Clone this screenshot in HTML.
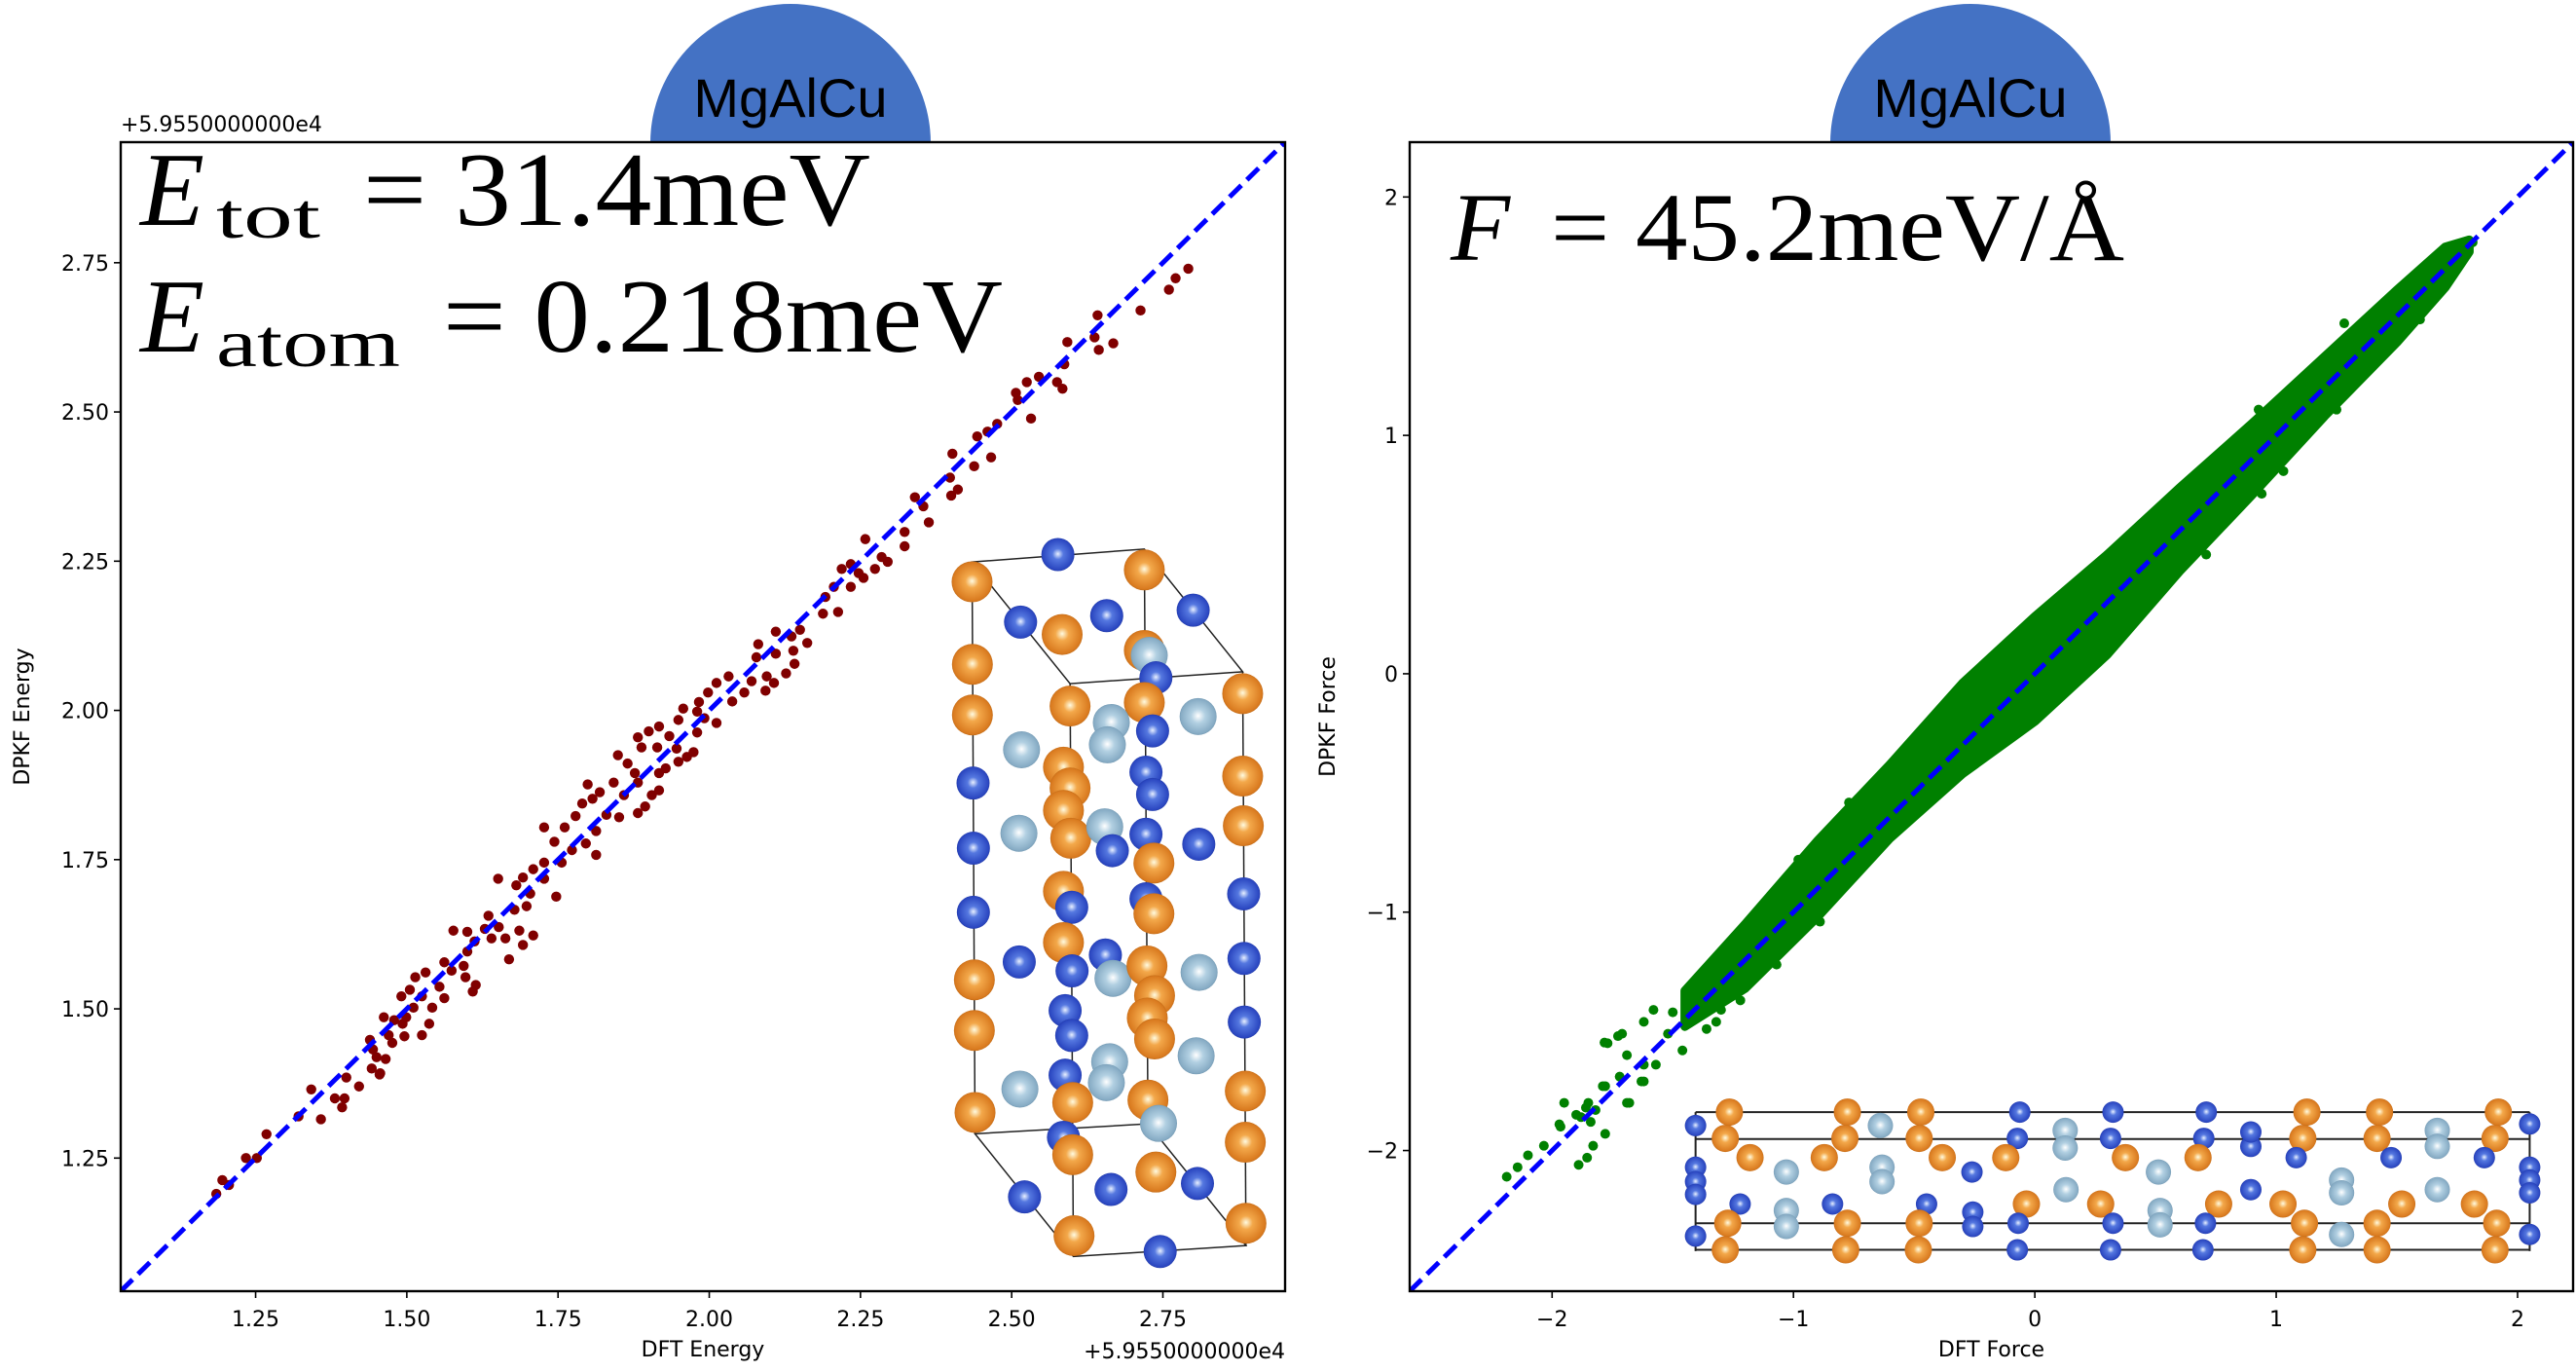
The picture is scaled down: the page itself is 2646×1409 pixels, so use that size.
<!DOCTYPE html>
<html>
<head>
<meta charset="utf-8">
<style>
html,body{margin:0;padding:0;background:#fff;}
svg{display:block;}
.tick{font-family:"DejaVu Sans","Liberation Sans",sans-serif;font-size:22px;fill:#000;}
.math{font-family:"Liberation Serif","DejaVu Serif",serif;fill:#000;}
.badge{font-family:"Liberation Sans","DejaVu Sans",sans-serif;font-size:56px;fill:#000;}
</style>
</head>
<body>
<svg id="fig" width="2646" height="1409" viewBox="0 0 2646 1409" xmlns="http://www.w3.org/2000/svg">
  <defs>
    <radialGradient id="gO" cx="0.5" cy="0.5" r="0.55" fx="0.5" fy="0.48">
      <stop offset="0" stop-color="#fffbe0"/><stop offset="0.3" stop-color="#f3a84a"/><stop offset="0.85" stop-color="#d97a1f"/><stop offset="1" stop-color="#a4590f"/>
    </radialGradient>
    <radialGradient id="gB" cx="0.5" cy="0.5" r="0.55" fx="0.5" fy="0.48">
      <stop offset="0" stop-color="#e8f0ff"/><stop offset="0.3" stop-color="#5578e0"/><stop offset="0.85" stop-color="#2a46c0"/><stop offset="1" stop-color="#182c88"/>
    </radialGradient>
    <radialGradient id="gL" cx="0.5" cy="0.5" r="0.55" fx="0.5" fy="0.48">
      <stop offset="0" stop-color="#ffffff"/><stop offset="0.35" stop-color="#b2d0e2"/><stop offset="0.85" stop-color="#86abc4"/><stop offset="1" stop-color="#5e839c"/>
    </radialGradient>
  </defs>

  <g>
    <path d="M668 147 A144 143 0 0 1 956 147 Z" fill="#4472C4"/>
    <text class="badge" x="812" y="120" text-anchor="middle">MgAlCu</text>
  </g>
  <g>
    <path d="M1880 147 A144 143 0 0 1 2168 147 Z" fill="#4472C4"/>
    <text class="badge" x="2024" y="120" text-anchor="middle">MgAlCu</text>
  </g>

  <g id="leftPlot"></g>
  <g id="rightPlot"></g>

  <text class="math" y="231">
    <tspan x="144" font-style="italic" font-size="108">E</tspan><tspan x="222" y="244" font-size="66" textLength="107" lengthAdjust="spacingAndGlyphs">tot</tspan><tspan x="373" y="231" font-size="108" textLength="521" lengthAdjust="spacingAndGlyphs">= 31.4meV</tspan>
  </text>
  <text class="math" y="361">
    <tspan x="144" font-style="italic" font-size="108">E</tspan><tspan x="222" y="376" font-size="70" textLength="189" lengthAdjust="spacingAndGlyphs">atom</tspan><tspan x="455" y="361" font-size="108" textLength="575" lengthAdjust="spacingAndGlyphs">= 0.218meV</tspan>
  </text>
  <text class="math" y="267">
    <tspan x="1490" font-style="italic" font-size="100">F</tspan><tspan x="1593" font-size="100" textLength="589" lengthAdjust="spacingAndGlyphs">= 45.2meV/Å</tspan>
  </text>
</svg>

<script>
// ---------- Energy data (offset +59550) ----------
const energyDFT = [
2.792,2.771,2.760,2.713,2.642,2.668,2.644,2.637,2.592,2.587,2.584,2.575,2.532,2.545,2.525,2.507,2.510,2.466,2.438,2.443,2.460,2.476,2.402,2.398,2.411,2.400,2.340,2.354,2.363,2.323,2.323,2.295,2.285,2.258,
2.274,2.247,2.234,2.219,2.255,2.234,2.206,2.192,
2.213,2.188,2.162,2.150,2.136,2.110,2.081,2.110,2.139,2.141,2.127,2.095,2.107,2.093,2.078,2.070,2.058,2.032,2.012,2.038,1.998,1.983,1.957,1.949,1.980,1.992,2.012,1.980,1.934,1.917,1.900,1.882,1.888,1.914,1.946,1.963,1.974,1.949,1.928,1.917,1.917,1.905,1.894,1.882,1.851,1.849,1.865,1.877,1.882,1.859,1.842,1.819,1.799,1.807,1.790,1.830,1.779,1.761,1.727,1.813,1.796,1.773,1.744,1.813,1.756,1.727,1.709,1.692,1.727,1.681,1.704,1.747,1.651,1.678,1.698,1.635,1.652,1.629,1.577,1.600,1.640,1.663,1.686,1.709,1.692,1.669,1.612,1.600,1.594,1.597,1.614,1.609,1.562,1.574,1.554,1.531,1.514,1.505,1.491,1.525,1.542,1.562,1.511,1.499,1.537,1.525,1.493,1.479,1.462,1.470,1.476,1.496,1.439,1.444,1.450,1.465,1.456,1.442,
1.455,1.400,1.421,1.397,1.393,1.381,1.342,1.358,1.321,1.268,1.252,1.234,1.195,1.206,1.185];
const energyDPKF = [
2.740,2.724,2.705,2.670,2.662,2.615,2.604,2.625,2.617,2.580,2.539,2.550,2.489,2.559,2.550,2.532,2.520,2.424,2.409,2.459,2.467,2.480,2.430,2.390,2.370,2.360,2.357,2.342,2.315,2.299,2.275,2.249,2.257,2.287,
2.237,2.230,2.245,2.237,2.222,2.207,2.207,2.190,
2.165,2.162,2.113,2.135,2.124,2.132,2.111,2.095,2.100,2.078,2.062,2.057,2.046,2.033,2.089,2.049,2.030,2.057,2.046,2.015,2.030,2.014,2.003,1.984,1.998,1.987,1.979,1.963,1.957,1.973,1.965,1.955,1.938,1.938,1.936,1.922,1.930,1.914,1.903,1.895,1.866,1.858,1.839,1.828,1.821,1.925,1.911,1.895,1.879,1.858,1.879,1.863,1.876,1.852,1.844,1.825,1.823,1.804,1.804,1.798,1.777,1.766,1.780,1.758,1.745,1.745,1.734,1.720,1.718,1.707,1.693,1.688,1.718,1.666,1.672,1.656,1.637,1.634,1.631,1.629,1.618,1.618,1.631,1.623,1.607,1.583,1.613,1.596,1.572,1.553,1.540,1.529,1.578,1.564,1.537,1.561,1.553,1.532,1.521,1.521,1.502,1.518,1.502,1.486,1.475,1.456,1.475,1.481,1.486,1.456,1.443,1.454,1.448,1.432,1.419,1.416,1.392,1.400,
1.390,1.385,1.370,1.350,1.335,1.350,1.365,1.315,1.320,1.290,1.250,1.250,1.213,1.205,1.190];
const energyTicks = [1.25,1.50,1.75,2.00,2.25,2.50,2.75];
const energyTickLabels = ["1.25","1.50","1.75","2.00","2.25","2.50","2.75"];
const energyRange = [1.027, 2.952];

// ---------- Force data ----------
const forceBandX     = [-1.45,-1.2,-0.9,-0.6,-0.3,0.0,0.3,0.6,0.9,1.2,1.5,1.7,1.8];
const forceBandUpper = [-1.33,-1.05,-0.70,-0.38,-0.04,0.24,0.50,0.78,1.05,1.33,1.61,1.79,1.82];
const forceBandLower = [-1.48,-1.32,-1.02,-0.69,-0.42,-0.20,0.08,0.43,0.75,1.08,1.39,1.62,1.77];
const forceOutX = [-2.188,-2.143,-2.034,-1.965,-1.89,-1.855,-1.83,-1.78,-1.78,-1.68,-1.63,-1.88,-1.86,-1.84,-1.783,-1.727,
  -1.58,-1.62,-1.71,-1.77,-1.69,-1.62,-1.57,-1.46,-1.52,-1.32,-1.36,-1.30,-1.22,-1.62,-1.72,-1.79,-1.69,-1.85,-1.82,-1.90,-1.97,-0.98,-0.77,-1.07,-0.89,
  1.814,1.736,1.596,1.39,1.25,1.03,0.94,0.71,0.927,0.771,1.282,-2.1,-1.95,-1.50,-1.44];
const forceOutY = [-2.11,-2.07,-1.98,-1.90,-2.06,-2.03,-1.98,-1.93,-1.73,-1.80,-1.71,-1.86,-1.82,-1.88,-1.547,-1.52,
  -1.41,-1.46,-1.51,-1.55,-1.60,-1.64,-1.64,-1.58,-1.51,-1.46,-1.49,-1.41,-1.37,-1.71,-1.69,-1.73,-1.80,-1.80,-1.83,-1.85,-1.89,-0.78,-0.54,-1.22,-1.04,
  1.81,1.73,1.486,1.29,1.108,0.85,0.755,0.50,1.108,0.92,1.47,-2.02,-1.80,-1.42,-1.38];
const forceTicks = [-2,-1,0,1,2];
const forceTickLabels = ["\u22122","\u22121","0","1","2"];
const forceRange = [-2.59, 2.23];

const NS = "http://www.w3.org/2000/svg";
function mk(tag, attrs, parent){
  const e = document.createElementNS(NS, tag);
  for (const k in attrs) e.setAttribute(k, attrs[k]);
  parent.appendChild(e);
  return e;
}

function drawAxes(g, box, range, ticks, labels, xlabel, ylabel, offsetText){
  const sx = v => box.x0 + (v - range[0]) / (range[1] - range[0]) * (box.x1 - box.x0);
  const sy = v => box.y1 - (v - range[0]) / (range[1] - range[0]) * (box.y1 - box.y0);
  ticks.forEach((t, i) => {
    const X = sx(t), Y = sy(t);
    const tx = mk('line', {x1:X, y1:box.y1, x2:X, y2:box.y1+7, stroke:'#000','stroke-width':1.6}, g);
    
    
    const lx = mk('text', {x:X, y:box.y1+36, 'text-anchor':'middle', class:'tick'}, g);
    lx.textContent = labels[i];
    
    
    const ty = mk('line', {x1:box.x0-7, y1:Y, x2:box.x0, y2:Y, stroke:'#000','stroke-width':1.6}, g);
    
    
    const ly = mk('text', {x:box.x0-12, y:Y+8, 'text-anchor':'end', class:'tick'}, g);
    ly.textContent = labels[i];
    
    
  });
  const xl = mk('text', {x:(box.x0+box.x1)/2, y:1393, 'text-anchor':'middle', class:'tick'}, g);
  xl.textContent = xlabel;
  
  
  const yx = box.ylabelX;
  const yl = mk('text', {x:yx, y:736, 'text-anchor':'middle', class:'tick', transform:`rotate(-90 ${yx} 736)`}, g);
  yl.textContent = ylabel;
  
  
  if (offsetText){
    const o1 = mk('text', {x:box.x0, y:135, class:'tick', 'font-size':19}, g);
    o1.textContent = offsetText;
    
    
    const o2 = mk('text', {x:box.x1, y:1395, 'text-anchor':'end', class:'tick', 'font-size':22}, g);
    o2.textContent = offsetText;
    
    
  }
  return {sx, sy};
}

function drawFrame(g, box){
  const f = mk('rect', {x:box.x0, y:box.y0, width:box.x1-box.x0, height:box.y1-box.y0, fill:'none', stroke:'#000','stroke-width':2.4}, g);
  
  
}

function diag(g, box, sx, sy, range){
  const cp = mk('clipPath', {id:'cp'+box.x0}, g);
  mk('rect', {x:box.x0, y:box.y0, width:box.x1-box.x0, height:box.y1-box.y0}, cp);
  const l = mk('line', {x1:sx(range[0]), y1:sy(range[0]), x2:sx(range[1]), y2:sy(range[1]), stroke:'#0000ff','stroke-width':5,'stroke-dasharray':'17 8','clip-path':`url(#cp${box.x0})`}, g);
  
  
}

function atom(g, x, y, r, c){
  const fill = c==='o' ? 'url(#gO)' : c==='b' ? 'url(#gB)' : 'url(#gL)';
  const a = mk('circle', {cx:x, cy:y, r:r, fill:fill}, g);
  
  
}

// ---------- Left plot ----------
(function(){
  const g = document.getElementById('leftPlot');
  const box = {x0:124, x1:1320, y0:146, y1:1326, ylabelX:30};
  const {sx, sy} = drawAxes(g, box, energyRange, energyTicks, energyTickLabels, 'DFT Energy', 'DPKF Energy', '+5.9550000000e4');
  const cg = mk('g', {}, g);
  
  
  const tx = X => 950 + X/2.95, ty = Y => 520 + Y/1.96;
  const top = [[143,112],[665,86],[963,333],[440,357]];
  const bot = [[152,1263],[676,1243],[973,1488],[450,1510]];
  const pts = a => a.map(p => tx(p[0])+','+ty(p[1])).join(' ');
  mk('polygon', {points:pts(top), fill:'none', stroke:'#222','stroke-width':1.5}, cg);
  mk('polygon', {points:pts(bot), fill:'none', stroke:'#222','stroke-width':1.5}, cg);
  for (let i=0;i<4;i++) mk('line', {x1:tx(top[i][0]), y1:ty(top[i][1]), x2:tx(bot[i][0]), y2:ty(bot[i][1]), stroke:'#222','stroke-width':1.5}, cg);
  const atomsL = [[403,97,'b'],[143,152,'o'],[665,128,'o'],[290,233,'b'],[416,258,'o'],[551,220,'b'],[813,209,'b'],[144,318,'o'],[665,290,'o'],[680,300,'l'],[700,345,'b'],[144,420,'o'],[440,402,'o'],[665,395,'o'],[963,377,'o'],[565,435,'l'],[828,423,'l'],[553,480,'l'],[690,452,'b'],[293,490,'l'],[146,557,'b'],[420,525,'o'],[440,567,'o'],[670,535,'b'],[690,580,'b'],[963,543,'o'],[965,643,'o'],[285,658,'l'],[420,612,'o'],[442,668,'o'],[545,645,'l'],[568,693,'b'],[670,660,'b'],[830,680,'b'],[694,718,'o'],[147,688,'b'],[147,817,'b'],[420,775,'o'],[445,807,'b'],[670,790,'b'],[694,820,'o'],[966,780,'b'],[420,878,'o'],[286,917,'b'],[547,903,'b'],[446,935,'b'],[570,950,'l'],[673,925,'o'],[831,938,'l'],[967,910,'b'],[150,953,'o'],[696,985,'o'],[150,1055,'o'],[425,1015,'b'],[445,1065,'b'],[674,1030,'o'],[696,1072,'o'],[968,1038,'b'],[288,1173,'l'],[425,1145,'b'],[560,1118,'l'],[550,1160,'l'],[822,1106,'l'],[152,1220,'o'],[448,1200,'o'],[676,1195,'o'],[708,1242,'l'],[971,1177,'o'],[420,1270,'b'],[448,1305,'o'],[971,1280,'o'],[302,1390,'b'],[564,1375,'b'],[700,1340,'o'],[826,1363,'b'],[452,1468,'o'],[713,1500,'b'],[973,1443,'o']];
  atomsL.forEach(a => atom(cg, tx(a[0]), ty(a[1]), a[2]==='o'?21:a[2]==='b'?17:19, a[2]));
  const sg = mk('g', {}, g);
  
  
  energyDFT.forEach((v, i) => {
    const c = mk('circle', {cx:sx(v), cy:sy(energyDPKF[i]), r:5.2, fill:'#800000'}, sg);
    
    
  });
  diag(g, box, sx, sy, energyRange);
  drawFrame(g, box);
})();

// ---------- Right plot ----------
(function(){
  const g = document.getElementById('rightPlot');
  const box = {x0:1448, x1:2643, y0:146, y1:1326, ylabelX:1371};
  const {sx, sy} = drawAxes(g, box, forceRange, forceTicks, forceTickLabels, 'DFT Force', 'DPKF Force', null);
  const sg = mk('g', {}, g);
  
  
  let d = '';
  forceBandX.forEach((v, i) => { d += (i?'L':'M') + sx(v) + ' ' + sy(forceBandUpper[i]) + ' '; });
  for (let i = forceBandX.length-1; i >= 0; i--) d += 'L' + sx(forceBandX[i]) + ' ' + sy(forceBandLower[i]) + ' ';
  d += 'Z';
  const band = mk('path', {d:d, fill:'#008000', stroke:'#008000','stroke-width':9,'stroke-linejoin':'round'}, sg);
  
  
  forceOutX.forEach((v, i) => {
    const c = mk('circle', {cx:sx(v), cy:sy(forceOutY[i]), r:5, fill:'#008000'}, sg);
    
    
  });
  diag(g, box, sx, sy, forceRange);
  const cg = mk('g', {}, g);
  
  
  const tx = X => 1323 + X/1.18, ty = Y => 1100 + Y/3.04;
  [128,212,475,558].forEach(Y => mk('line', {x1:tx(494), y1:ty(Y), x2:tx(1505), y2:ty(Y), stroke:'#222','stroke-width':2}, cg));
  [494,1505].forEach(X => mk('line', {x1:tx(X), y1:ty(128), x2:tx(X), y2:ty(562), stroke:'#222','stroke-width':2}, cg));
  const A = [];
  [535,678,767,1235,1323,1467].forEach(X => A.push([X,128,'o']));
  [887,1000,1113].forEach(X => A.push([X,128,'b']));
  [[718,170,'l'],[942,185,'l'],[1393,185,'l'],[494,170,'b'],[1505,165,'b'],[942,240,'l'],[1393,235,'l'],[1167,235,'b'],[1167,190,'b']].forEach(a => A.push(a));
  [530,675,765,1230,1320,1463].forEach(X => A.push([X,210,'o']));
  [884,997,1110].forEach(X => A.push([X,210,'b']));
  [560,650,793,870,1015,1103].forEach(X => A.push([X,270,'o']));
  [[1222,270,'b'],[1337,270,'b'],[1450,270,'b'],[604,315,'l'],[720,300,'l'],[720,345,'l'],[1055,315,'l'],[1277,340,'l'],[943,370,'l'],[1277,380,'l'],[1393,370,'l'],[829,315,'b'],[1167,370,'b'],[494,300,'b'],[494,345,'b'],[494,385,'b'],[1505,300,'b'],[1505,340,'b'],[1505,380,'b']].forEach(a => A.push(a));
  [895,985,1128,1206,1350,1438].forEach(X => A.push([X,415,'o']));
  [[548,415,'b'],[660,415,'b'],[774,415,'b'],[830,440,'b'],[604,435,'l'],[1057,435,'l']].forEach(a => A.push(a));
  [533,678,765,1232,1320,1465].forEach(X => A.push([X,475,'o']));
  [[830,485,'b'],[885,475,'b'],[1000,475,'b'],[1112,475,'b'],[604,485,'l'],[1057,480,'l'],[1277,510,'l'],[494,515,'b'],[1505,510,'b']].forEach(a => A.push(a));
  [530,676,764,1230,1320,1463].forEach(X => A.push([X,558,'o']));
  [884,997,1109].forEach(X => A.push([X,558,'b']));
  A.forEach(a => atom(cg, tx(a[0]), ty(a[1]), a[2]==='o'?14:a[2]==='b'?11:13, a[2]));
  drawFrame(g, box);
})();
</script>
</body>
</html>
